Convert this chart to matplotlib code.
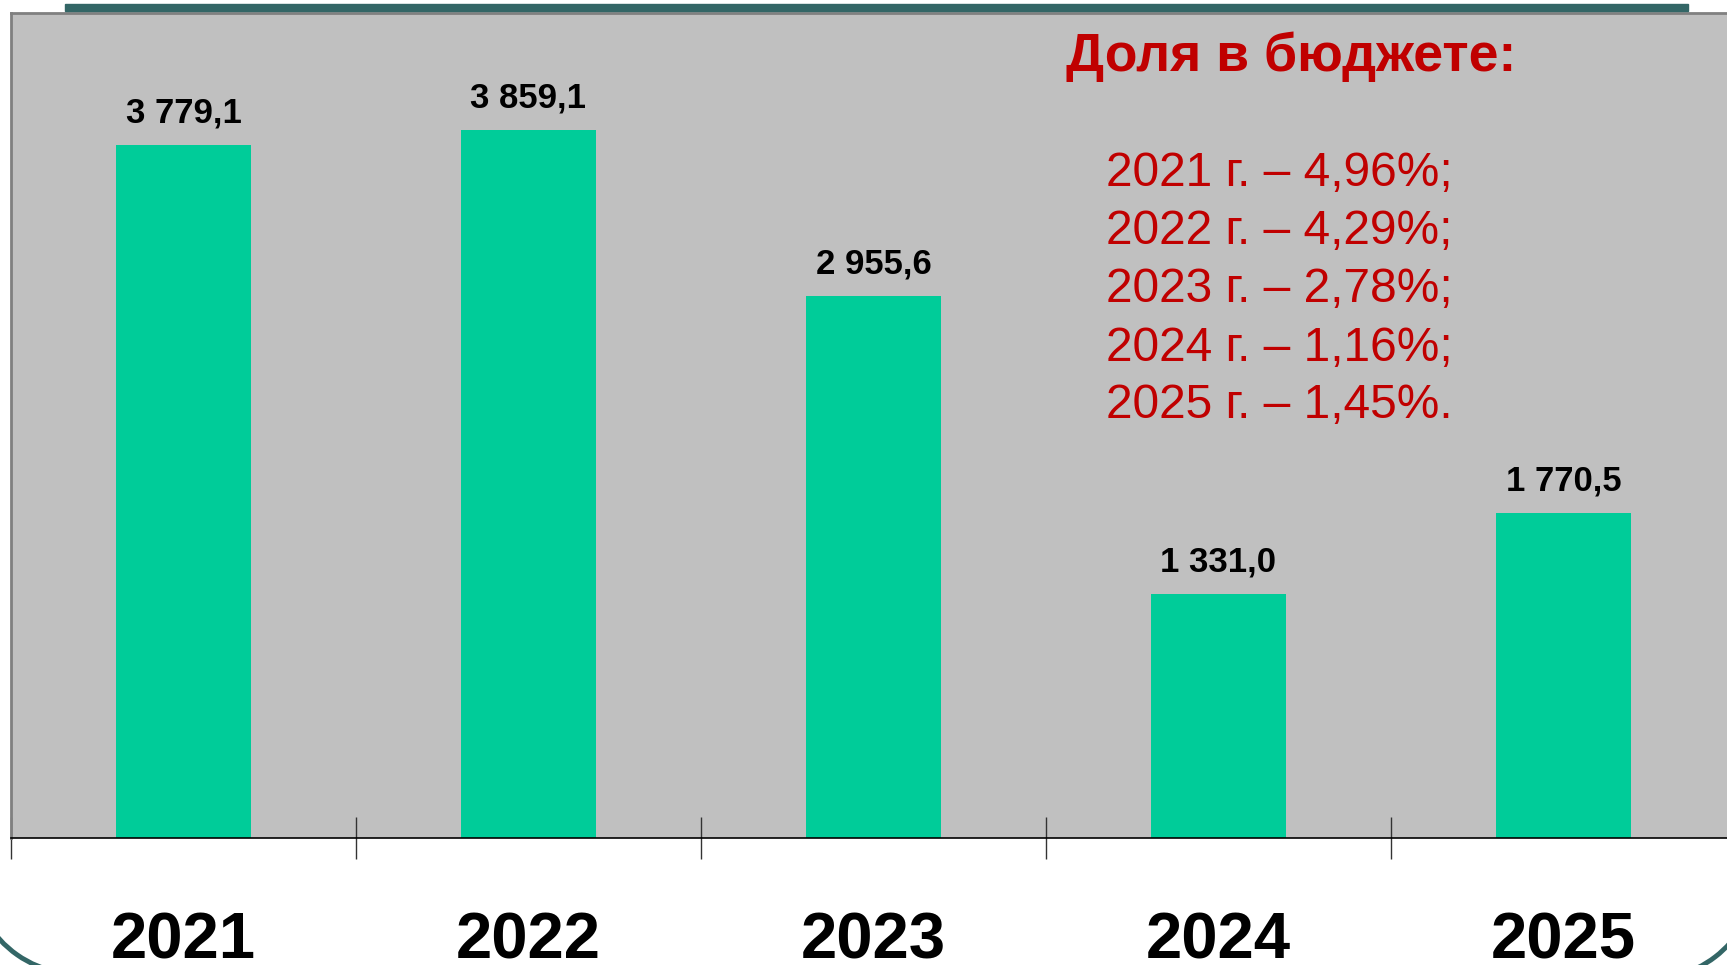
import matplotlib
matplotlib.use('Agg')
import matplotlib.pyplot as plt
from matplotlib.patches import Rectangle, Arc

plt.rcParams['font.family'] = ['Liberation Sans', 'DejaVu Sans']

# данные
years = ['2021', '2022', '2023', '2024', '2025']
values = [3779.1, 3859.1, 2955.6, 1331.0, 1770.5]
value_labels = ['3 779,1', '3 859,1', '2 955,6', '1 331,0', '1 770,5']
shares = ['2021 г. – 4,96%;', '2022 г. – 4,29%;', '2023 г. – 2,78%;',
          '2024 г. – 1,16%;', '2025 г. – 1,45%.']

W, H = 1727, 965
fig = plt.figure(figsize=(W / 100, H / 100), dpi=100)
fig.patch.set_facecolor('white')

# область графика (правый край уходит за пределы слайда)
ax = fig.add_axes([11 / W, (H - 838) / H, 1725 / W, 825 / H])
ax.set_facecolor('#C0C0C0')

x = range(len(years))
ax.bar(x, values, width=0.394, color='#00CC99', zorder=2)
for xi, v, lab in zip(x, values, value_labels):
    ax.text(xi, v + 85, lab, ha='center', va='bottom', fontsize=25,
            fontweight='bold', color='black')

ax.set_xlim(-0.5, len(years) - 0.5)
ax.set_ylim(0, 4500)
ax.set_yticks([])

ax.set_xticks(list(x))
ax.set_xticklabels(years, fontsize=47, fontweight='bold')
ax.tick_params(axis='x', which='major', length=0, pad=53)
ax.set_xticks([i - 0.5 for i in range(len(years))], minor=True)
ax.tick_params(axis='x', which='minor', direction='inout', length=30,
               width=1, color='#333333')

for s in ['left', 'top']:
    ax.spines[s].set_color('#808080')
    ax.spines[s].set_linewidth(2)
ax.spines['right'].set_visible(False)
ax.spines['bottom'].set_color('black')
ax.spines['bottom'].set_linewidth(1.2)

# текст справа
fig.text(1066 / W, 1 - 57 / H, 'Доля в бюджете:', fontsize=38.5, fontweight='bold',
         color='#C00000', ha='left', va='center')
for i, s in enumerate(shares):
    fig.text(1106 / W, 1 - (174 + 58 * i) / H, s, fontsize=34.5,
             color='#C00000', ha='left', va='center')

# оформление слайда
over = fig.add_axes([0, 0, 1, 1], zorder=5)
over.set_xlim(0, W)
over.set_ylim(H, 0)
over.axis('off')
over.patch.set_alpha(0)
over.add_patch(Rectangle((65, 4), 1623, 7, color='#336666'))
over.add_patch(Arc((78, 868), 212, 212, theta1=100, theta2=150,
                   color='#336666', lw=3.5))
over.add_patch(Arc((1650, 872), 214, 214, theta1=30, theta2=75,
                   color='#336666', lw=3.5))

fig.savefig('out.png', dpi=100)
